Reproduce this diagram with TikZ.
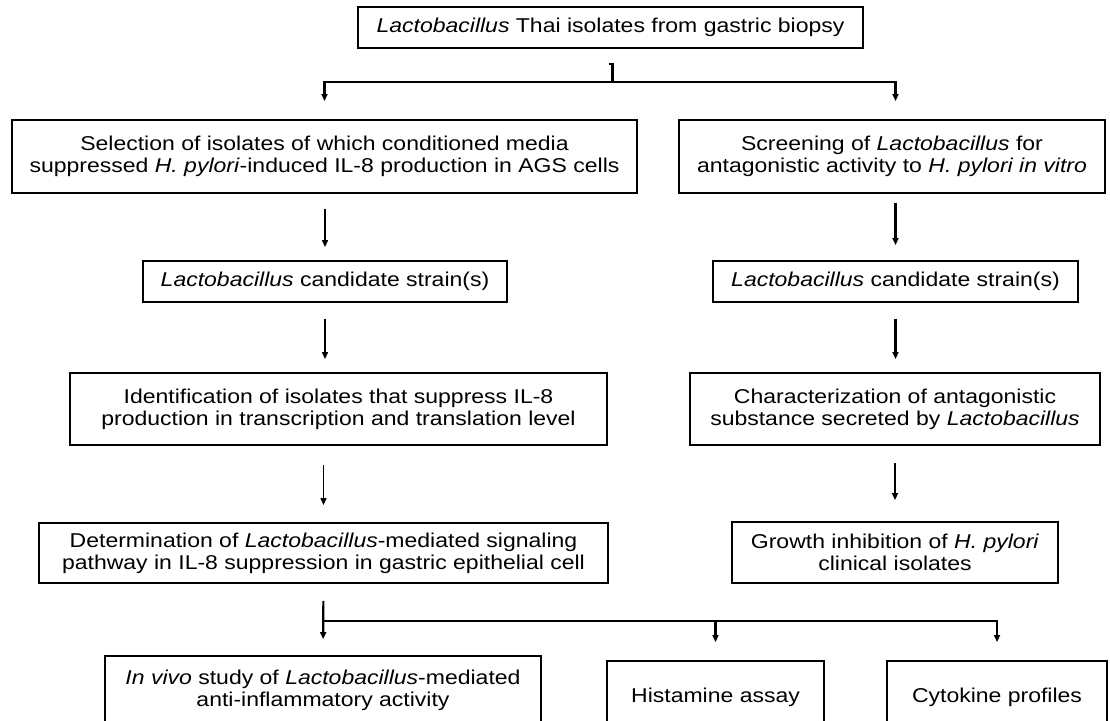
\documentclass[tikz,border=0pt]{standalone}
\usepackage{fontspec}
\setmainfont{Liberation Sans}[FakeStretch=1.15]
\usetikzlibrary{arrows.meta}

\tikzset{
    box/.style={draw, line width=1.9pt, align=center, inner sep=0pt, font=\fontsize{20}{22}\selectfont},
    branch/.style={line width=2.2pt},
    thinarrow/.style={line width=1.3pt, -{Triangle[width=6pt,length=7pt]}},
    thickarrow/.style={line width=2.2pt, -{Triangle[width=6pt,length=7pt]}},
}

\begin{document}
\begin{tikzpicture}[x=1pt, y=-1pt]
    \useasboundingbox (0,0) rectangle (1110,720);

    % Source of isolates
    \node[box, minimum width=505pt, minimum height=41pt] (isolates) at (610.5,27.5)
        {\textit{Lactobacillus} Thai isolates from gastric biopsy};

    % Left column
    \node[box, minimum width=625pt, minimum height=73pt] (select) at (324.5,156.5)
        {Selection of isolates of which conditioned media\\suppressed \textit{H. pylori}-induced IL-8 production in AGS cells};
    \node[box, minimum width=364pt, minimum height=41pt] (candL) at (325,281.5)
        {\textit{Lactobacillus} candidate strain(s)};
    \node[box, minimum width=537pt, minimum height=72pt] (ident) at (338.5,409)
        {Identification of isolates that suppress IL-8\\production in transcription and translation level};
    \node[box, minimum width=569pt, minimum height=60pt] (determ) at (323.5,553)
        {Determination of \textit{Lactobacillus}-mediated signaling\\pathway in IL-8 suppression in gastric epithelial cell};

    % Right column
    \node[box, minimum width=426pt, minimum height=73pt] (screen) at (892,156.5)
        {Screening of \textit{Lactobacillus} for\\antagonistic activity to \textit{H. pylori in vitro}};
    \node[box, minimum width=365pt, minimum height=41pt] (candR) at (895.5,281.5)
        {\textit{Lactobacillus} candidate strain(s)};
    \node[box, minimum width=410pt, minimum height=72pt] (charact) at (895,409)
        {Characterization of antagonistic\\substance secreted by \textit{Lactobacillus}};
    \node[box, minimum width=326pt, minimum height=61pt] (growth) at (895,552.5)
        {Growth inhibition of \textit{H. pylori}\\clinical isolates};

    % Bottom row
    \node[box, minimum width=436pt, minimum height=68pt] (invivo) at (323,690)
        {\textit{In vivo} study of \textit{Lactobacillus}-mediated\\anti-inflammatory activity};
    \node[box, minimum width=217pt, minimum height=72pt] (histamine) at (715.5,697)
        {Histamine assay};
    \node[box, minimum width=220pt, minimum height=72pt] (cytokine) at (997,697)
        {Cytokine profiles};

    % Top split
    \coordinate (fork1) at (612.5,82);
    \draw[branch] (isolates.south) ++(-2,15) -- ++(4,0) -- (fork1);
    \draw[thickarrow, shorten >=18pt] (fork1) -| (select.north);
    \draw[thickarrow, shorten >=18pt] (fork1) -| (candR.north |- screen.north);

    % Left column arrows
    \draw[thinarrow, shorten <=15pt, shorten >=13pt] (candL.north |- select.south) -- (candL.north);
    \draw[thinarrow, shorten <=16pt, shorten >=13pt] (candL.south) -- (candL.south |- ident.north);
    \draw[thinarrow, shorten <=19pt, shorten >=17pt] (determ.north |- ident.south) -- (determ.north);

    % Right column arrows
    \draw[thickarrow, shorten <=9pt, shorten >=15pt] (candR.north |- screen.south) -- (candR.north);
    \draw[thickarrow, shorten <=16pt, shorten >=13pt] (candR.south) -- (candR.south |- charact.north);
    \draw[thickarrow, shorten <=17pt, shorten >=21pt] (charact.south) -- (charact.south |- growth.north);

    % Bottom split
    \coordinate (fork2) at (323.5,621);
    \draw[thickarrow, shorten <=17pt, shorten >=16pt] (determ.south) -- (invivo.north);
    \draw[thickarrow, shorten >=18pt] (fork2) -| (histamine.north);
    \draw[thickarrow, shorten >=18pt] (fork2) -| (cytokine.north);
\end{tikzpicture}
\end{document}
